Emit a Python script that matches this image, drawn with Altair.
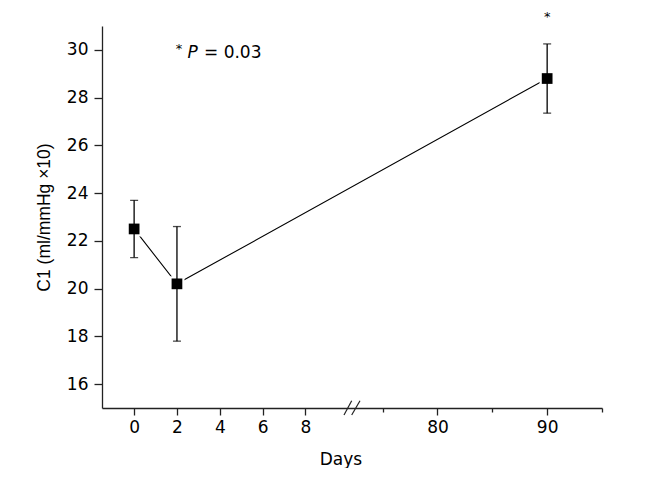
import altair as alt
import pandas as pd

days = [0, 2, 90]
c1 = [22.5, 20.2, 28.8]
upper = [23.7, 22.6, 30.25]
lower = [21.3, 17.8, 27.35]
star_day = [90]
star_y = [31.22]
x_ticks = [0, 2, 4, 6, 8, 75, 80, 85, 90, 95]
y_ticks = list(range(16, 32))

df = pd.DataFrame({"day": days, "c1": c1, "hi": upper, "lo": lower})
star_df = pd.DataFrame({"day": star_day, "y": star_y, "t": ["*"]})

FONT = "DejaVu Sans"
FONT2 = "Liberation Sans"
W, H = 500, 382
YTITLE = "C1 (ml/mmHg \u00d710)"

xscale = alt.Scale(domain=[-1.5, 10.16, 72.18, 95], range=[0, 249.7, 249.7, W], nice=False, zero=False)
yscale = alt.Scale(domain=[15, 31], nice=False, zero=False)

xaxis = alt.Axis(
    values=x_ticks,
    labelExpr="datum.value % 10 == 5 ? '' : datum.label",
    tickSize={"condition": {"test": "datum.value % 10 == 5", "value": 4}, "value": 7},
    grid=False, title="Days", titleX=238.5, titleY=56, titleBaseline="alphabetic",
    labelPadding=4, labelFontSize=17, titleFontSize=17, titleFontWeight="normal",
    labelFont=FONT, titleFont=FONT, labelColor="black", titleColor="black",
    domainColor="#222", tickColor="#222", domainWidth=1.3, tickWidth=1.3,
)
yaxis = alt.Axis(
    values=y_ticks,
    labelExpr="datum.value % 2 == 0 ? datum.label : ''",
    tickSize={"condition": {"test": "datum.value % 2 == 1", "value": 4}, "value": 8},
    grid=False, title=YTITLE, titlePadding=13,
    labelPadding=6, labelFontSize=17, titleFontSize=17.5, titleFontWeight="normal",
    labelFont=FONT, titleFont=FONT2, labelColor="black", titleColor="black",
    domainColor="#222", tickColor="#222", domainWidth=1.3, tickWidth=1.3,
)

base = alt.Chart(df)
line = base.mark_line(color="black", strokeWidth=1.1).encode(
    x=alt.X("day:Q", scale=xscale, axis=xaxis),
    y=alt.Y("c1:Q", scale=yscale, axis=yaxis),
)
halo = base.mark_square(color="white", opacity=1, size=230).encode(x="day:Q", y="c1:Q")
err = base.mark_errorbar(color="black", thickness=1.3, ticks=alt.MarkConfig(size=8, color="black", strokeWidth=1.3)).encode(
    x="day:Q", y=alt.Y("lo:Q", title=YTITLE), y2="hi:Q"
)
pts = base.mark_square(color="black", opacity=1, size=115).encode(x="day:Q", y="c1:Q")

star = alt.Chart(star_df).mark_text(font=FONT, fontSize=13, baseline="alphabetic", color="black").encode(
    x="day:Q", y="y:Q", text="t:N"
)

one = pd.DataFrame({"a": [0]})
ann_star = alt.Chart(one).mark_text(text="*", font=FONT, fontSize=13, align="center", baseline="alphabetic", color="black").encode(
    x=alt.value(77), y=alt.value(26.6)
)
ann_p = alt.Chart(one).mark_text(text="P", font=FONT, fontSize=17, fontStyle="italic", align="left", baseline="alphabetic", color="black").encode(
    x=alt.value(85.5), y=alt.value(31.7)
)
ann_v = alt.Chart(one).mark_text(text="= 0.03", font=FONT, fontSize=17, align="left", baseline="alphabetic", color="black").encode(
    x=alt.value(102), y=alt.value(31.7)
)
slash1 = alt.Chart(one).mark_rule(color="#222", strokeWidth=1.2).encode(
    x=alt.value(242), x2=alt.value(249.7), y=alt.value(389), y2=alt.value(374.7)
)
slash2 = alt.Chart(one).mark_rule(color="#222", strokeWidth=1.2).encode(
    x=alt.value(249.7), x2=alt.value(258), y=alt.value(389), y2=alt.value(374.7)
)

chart = alt.layer(line, halo, err, pts, star, ann_star, ann_p, ann_v, slash1, slash2).properties(
    width=W, height=H, autosize=alt.AutoSizeParams(type="none"),
    padding={"left": 94, "top": 18, "right": 30, "bottom": 60},
).configure(font=FONT, background="white").configure_view(stroke=None)

chart.save("out.html", embed_options={"renderer": "svg", "actions": False})
